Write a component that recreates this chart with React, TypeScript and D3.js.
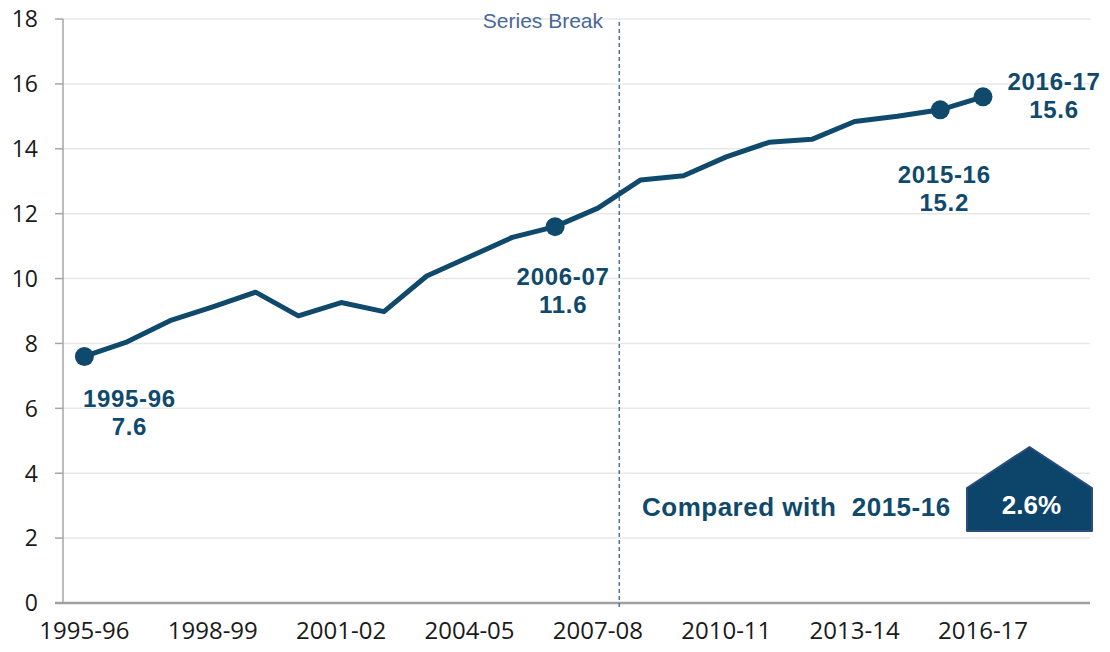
import React from "react";
import * as d3 from "d3";

// chart data
const years = [
  "1995-96", "1996-97", "1997-98", "1998-99", "1999-00", "2000-01", "2001-02",
  "2002-03", "2003-04", "2004-05", "2005-06", "2006-07", "2007-08", "2008-09",
  "2009-10", "2010-11", "2011-12", "2012-13", "2013-14", "2014-15", "2015-16",
  "2016-17",
];
const values = [
  7.6, 8.05, 8.7, 9.13, 9.58, 8.85, 9.26, 8.98, 10.08, 10.67, 11.27, 11.6,
  12.17, 13.04, 13.17, 13.75, 14.2, 14.29, 14.84, 15.0, 15.2, 15.6,
];
// axis keeps two empty periods after the last year
const axisYears = [...years, "2017-18", "2018-19"];
const tickYears = ["1995-96", "1998-99", "2001-02", "2004-05", "2007-08", "2010-11", "2013-14", "2016-17"];
const yTicks = [0, 2, 4, 6, 8, 10, 12, 14, 16, 18];
const highlighted = ["1995-96", "2006-07", "2015-16", "2016-17"];
const breakAfter = "2007-08";
const changeLabel = "2.6%";
const compareText = "Compared with  2015-16";

const W = 1110;
const H = 652;
const left = 63;
const right = 1090;
const top = 19;
const bottom = 603;

const navy = "#0f4a6c";

// label offsets from the marker: [dx, dy of first line]
const labelOffsets: Record<string, [number, number]> = {
  "1995-96": [45, 51],
  "2006-07": [8, 58],
  "2015-16": [4, 73],
  "2016-17": [71, -7],
};

export default function App() {
  const x = d3.scalePoint<string>().domain(axisYears).range([left, right]).padding(0.5);
  const y = d3.scaleLinear().domain([0, 18]).range([bottom, top]);

  const data = years.map((yr, i) => ({ yr, v: values[i] }));
  const line = d3
    .line<{ yr: string; v: number }>()
    .x((d) => x(d.yr)!)
    .y((d) => y(d.v));

  const step = x.step();
  const breakX = x(breakAfter)! + step / 2;

  // up arrow badge
  const bx0 = 967, bx1 = 1092, bTop = 447, bShoulder = 488, bBottom = 531;
  const badge = `M${bx0},${bShoulder} L${(bx0 + bx1) / 2},${bTop} L${bx1},${bShoulder} L${bx1},${bBottom} L${bx0},${bBottom} Z`;

  return (
    <svg width={W} height={H} style={{ position: "absolute", left: 0, top: 0, background: "#fff" }}>
      {/* grid */}
      {yTicks.filter((t) => t > 0).map((t) => (
        <line key={t} x1={left} x2={right} y1={y(t)} y2={y(t)} stroke="#e8e8e8" strokeWidth={1.5} />
      ))}
      {/* y axis */}
      <line x1={left} x2={left} y1={top} y2={bottom} stroke="#a6a6a6" strokeWidth={1.5} />
      {yTicks.map((t) => (
        <g key={t}>
          <line x1={55} x2={left} y1={y(t)} y2={y(t)} stroke="#a6a6a6" strokeWidth={1.5} />
          <text x={38} y={y(t)} dy="0.36em" textAnchor="end" fontFamily="Open Sans" fontSize={23} fill="#1a1a1a">
            {t}
          </text>
        </g>
      ))}
      {/* x axis */}
      <line x1={55} x2={right} y1={bottom} y2={bottom} stroke="#a0a0a0" strokeWidth={2.5} />
      {tickYears.map((t) => (
        <text key={t} x={x(t)} y={639} textAnchor="middle" fontFamily="Open Sans" fontSize={24} fill="#1a1a1a">
          {t}
        </text>
      ))}

      {/* series break */}
      <line x1={breakX} x2={breakX} y1={22} y2={609} stroke="#4f6fa0" strokeWidth={1.5} strokeDasharray="4,3" />
      <text x={603} y={28} textAnchor="end" fontFamily="Liberation Sans" fontSize={21} fill="#4a6898">
        Series Break
      </text>

      {/* series */}
      <path d={line(data)!} fill="none" stroke={navy} strokeWidth={5} strokeLinejoin="round" />
      {data
        .filter((d) => highlighted.includes(d.yr))
        .map((d) => {
          const [dx, dy] = labelOffsets[d.yr];
          const px = x(d.yr)!;
          const py = y(d.v);
          return (
            <g key={d.yr}>
              <circle cx={px} cy={py} r={9.5} fill={navy} />
              <text
                x={px + dx}
                y={py + dy}
                textAnchor="middle"
                fontFamily="Liberation Sans"
                fontWeight="bold"
                fontSize={24}
                letterSpacing={0.7}
                fill={navy}
              >
                <tspan x={px + dx}>{d.yr}</tspan>
                <tspan x={px + dx} dy={28}>
                  {d.v.toFixed(1)}
                </tspan>
              </text>
            </g>
          );
        })}

      {/* comparison */}
      <text
        x={642}
        y={516}
        fontFamily="Liberation Sans"
        fontWeight="bold"
        fontSize={26}
        letterSpacing={0.5}
        fill={navy}
        style={{ whiteSpace: "pre" }}
      >
        {compareText}
      </text>
      <path d={badge} fill="#0d456a" stroke="#2b4d7e" strokeWidth={2} strokeLinejoin="round" />
      <text
        x={(bx0 + bx1) / 2 + 2}
        y={514}
        textAnchor="middle"
        fontFamily="Liberation Sans"
        fontWeight="bold"
        fontSize={26}
        fill="#fff"
      >
        {changeLabel}
      </text>
    </svg>
  );
}
